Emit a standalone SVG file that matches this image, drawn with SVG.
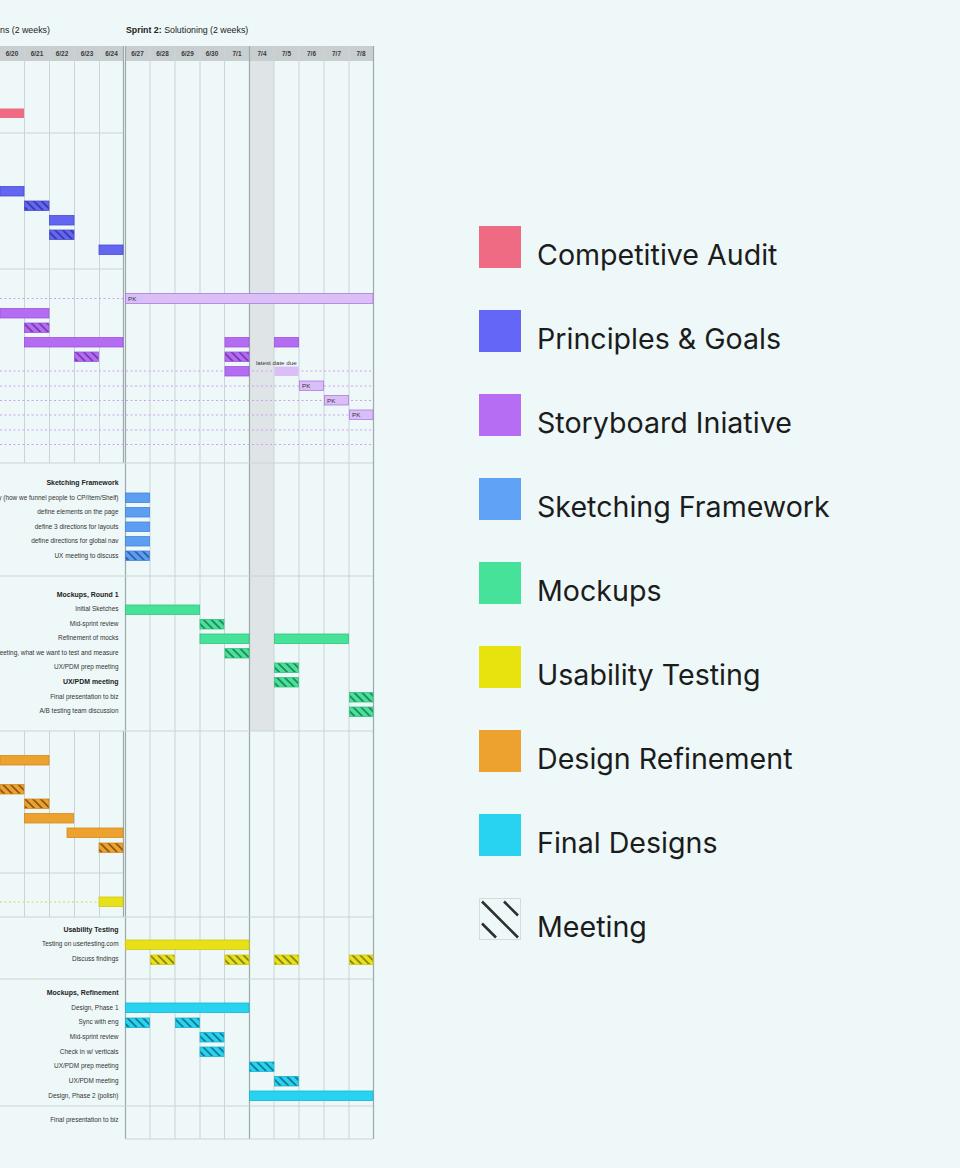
<svg xmlns="http://www.w3.org/2000/svg" width="960" height="1168" viewBox="0 0 960 1168">
<style>
.g{stroke:#CAD4D6;stroke-width:1;fill:none}
.gd{stroke:#9EA9AB;stroke-width:1.2;fill:none}
.hd{font-family:"Liberation Sans",Arial,sans-serif;font-size:6.4px;font-weight:bold;fill:#3a3a3a;text-anchor:middle}
.tt{font-family:"Liberation Sans",Arial,sans-serif;font-size:8.8px;fill:#222}
.lb{font-family:"Liberation Sans",Arial,sans-serif;font-size:6.45px;fill:#333;text-anchor:end}
.lbb{font-family:"Liberation Sans",Arial,sans-serif;font-size:6.95px;font-weight:bold;fill:#222;text-anchor:end}
.sm{font-family:"Liberation Sans",Arial,sans-serif;font-size:6.2px;fill:#333}
.lg{font-family:Inter,"Liberation Sans",Arial,sans-serif;font-size:28.6px;fill:#1c1c1c}
.dp{stroke:#C9A2F0;stroke-width:1;stroke-dasharray:2 2.5;fill:none}
.dy{stroke:#DCD64A;stroke-width:1;stroke-dasharray:2 2.5;fill:none}
.ca{fill:#EF6A83}
.pg{fill:#6366F1;stroke:#4A4DD0;stroke-width:0.8}
.sb{fill:#B46CF2;stroke:#9C55DC;stroke-width:0.8}
.sbl{fill:#D9BFF6;stroke:#AE78E6;stroke-width:0.8}
.sf{fill:#5E9EF2;stroke:#4585DA;stroke-width:0.8}
.mk{fill:#47E29A;stroke:#33C47F;stroke-width:0.8}
.ut{fill:#E8E11A;stroke:#CFC80A;stroke-width:0.8}
.dr{fill:#EDA12F;stroke:#D48B1E;stroke-width:0.8}
.fd{fill:#27D3F0;stroke:#14B6D3;stroke-width:0.8}
.pg.m{fill:url(#hPG)}
.sb.m{fill:url(#hSB)}
.sf.m{fill:url(#hSF)}
.mk.m{fill:url(#hMK)}
.ut.m{fill:url(#hUT)}
.dr.m{fill:url(#hDR)}
.fd.m{fill:url(#hFD)}
</style>
<defs>
<pattern id="hPG" width="5.5" height="5.5" patternUnits="userSpaceOnUse" patternTransform="rotate(-45)"><rect width="5.5" height="5.5" fill="#6366F1"/><line x1="2.75" y1="0" x2="2.75" y2="5.5" stroke="#2C2E8E" stroke-width="1.4"/></pattern>
<pattern id="hSB" width="5.5" height="5.5" patternUnits="userSpaceOnUse" patternTransform="rotate(-45)"><rect width="5.5" height="5.5" fill="#B46CF2"/><line x1="2.75" y1="0" x2="2.75" y2="5.5" stroke="#6A2E9E" stroke-width="1.4"/></pattern>
<pattern id="hSF" width="5.5" height="5.5" patternUnits="userSpaceOnUse" patternTransform="rotate(-45)"><rect width="5.5" height="5.5" fill="#5E9EF2"/><line x1="2.75" y1="0" x2="2.75" y2="5.5" stroke="#234E8E" stroke-width="1.4"/></pattern>
<pattern id="hMK" width="5.5" height="5.5" patternUnits="userSpaceOnUse" patternTransform="rotate(-45)"><rect width="5.5" height="5.5" fill="#47E29A"/><line x1="2.75" y1="0" x2="2.75" y2="5.5" stroke="#1E6B48" stroke-width="1.4"/></pattern>
<pattern id="hUT" width="5.5" height="5.5" patternUnits="userSpaceOnUse" patternTransform="rotate(-45)"><rect width="5.5" height="5.5" fill="#E8E11A"/><line x1="2.75" y1="0" x2="2.75" y2="5.5" stroke="#6E6A10" stroke-width="1.4"/></pattern>
<pattern id="hDR" width="5.5" height="5.5" patternUnits="userSpaceOnUse" patternTransform="rotate(-45)"><rect width="5.5" height="5.5" fill="#EDA12F"/><line x1="2.75" y1="0" x2="2.75" y2="5.5" stroke="#6E4410" stroke-width="1.4"/></pattern>
<pattern id="hFD" width="5.5" height="5.5" patternUnits="userSpaceOnUse" patternTransform="rotate(-45)"><rect width="5.5" height="5.5" fill="#27D3F0"/><line x1="2.75" y1="0" x2="2.75" y2="5.5" stroke="#145E70" stroke-width="1.4"/></pattern>
</defs>
<rect width="960" height="1168" fill="#EEF8F8"/>

<g id="titles">
<text class="tt" x="0" y="33">ns (2 weeks)</text>
<text class="tt" x="126" y="33"><tspan font-weight="bold">Sprint 2:</tspan> Solutioning (2 weeks)</text>
</g>

<g id="grid">
<rect x="0" y="46" width="123" height="15" fill="#C9CFD1"/>
<rect x="125" y="46" width="248" height="15" fill="#C9CFD1"/>
<rect x="249.5" y="61" width="24.5" height="670" fill="#DFE5E7"/>
<path class="g" d="M24.5 46V463M49.5 46V463M74.5 46V463M99.5 46V463M24.5 731V917M49.5 731V917M74.5 731V917M99.5 731V917"/>
<path class="gd" d="M123.5 46V463M123.5 731V917"/>
<path class="g" d="M150 46V1139M175 46V1139M200 46V1139M224.5 46V1139M274 46V1139M299 46V1139M324 46V1139M349 46V1139"/>
<path class="gd" d="M125.5 46V1139M249.5 46V1139M373.5 46V1139"/>
<path class="g" d="M0 133H123M0 269H123M0 463H373M0 576H373M0 731H373M0 873H123M0 917H373M0 979H373M0 1106H373M125 1139H373"/>
</g>

<g id="header">
<text class="hd" x="12" y="55.7">6/20</text>
<text class="hd" x="37" y="55.7">6/21</text>
<text class="hd" x="62" y="55.7">6/22</text>
<text class="hd" x="87" y="55.7">6/23</text>
<text class="hd" x="111.5" y="55.7">6/24</text>
<text class="hd" x="137.5" y="55.7">6/27</text>
<text class="hd" x="162.5" y="55.7">6/28</text>
<text class="hd" x="187.5" y="55.7">6/29</text>
<text class="hd" x="212" y="55.7">6/30</text>
<text class="hd" x="237" y="55.7">7/1</text>
<text class="hd" x="262" y="55.7">7/4</text>
<text class="hd" x="286.5" y="55.7">7/5</text>
<text class="hd" x="311.5" y="55.7">7/6</text>
<text class="hd" x="336.5" y="55.7">7/7</text>
<text class="hd" x="361" y="55.7">7/8</text>
</g>

<g id="competitive-audit">
<rect class="ca" x="0" y="108.5" width="24" height="9.5"/>
</g>

<g id="principles-goals">
<rect class="pg" x="0" y="186.5" width="24" height="9.5"/>
<rect class="pg m" x="24.5" y="201" width="24.5" height="9.5"/>
<rect class="pg" x="49.5" y="215.5" width="24.5" height="9.5"/>
<rect class="pg m" x="49.5" y="230" width="24.5" height="9.5"/>
<rect class="pg" x="99" y="245" width="24" height="9.5"/>
</g>

<g id="storyboard">
<path class="dp" d="M0 298.5H125M0 371H373M0 386H373M0 400.5H373M0 415H373M0 430H373M0 444.5H373"/>
<rect class="sbl" x="125.5" y="293.5" width="247.5" height="10"/>
<text class="sm" x="128" y="300.5">PK</text>
<rect class="sb" x="0" y="308.5" width="49" height="9.5"/>
<rect class="sb m" x="24.5" y="323" width="24.5" height="9.5"/>
<rect class="sb" x="24.5" y="337.5" width="98.5" height="9.5"/>
<rect class="sb" x="225" y="337.5" width="24" height="9.5"/>
<rect class="sb" x="274.5" y="337.5" width="24" height="9.5"/>
<rect class="sb m" x="74.5" y="352" width="24" height="9.5"/>
<rect class="sb m" x="225" y="352" width="24" height="9.5"/>
<text class="sm" x="256" y="365">latest date due</text>
<rect class="sb" x="225" y="366.5" width="24" height="9.5"/>
<rect fill="#D9BFF6" x="274.5" y="366.5" width="24" height="9.5"/>
<rect class="sbl" x="299.5" y="381" width="24" height="9.5"/>
<text class="sm" x="302" y="388">PK</text>
<rect class="sbl" x="324.5" y="395.5" width="24" height="9.5"/>
<text class="sm" x="327" y="402.5">PK</text>
<rect class="sbl" x="349.5" y="410" width="23.5" height="9.5"/>
<text class="sm" x="352" y="417">PK</text>
</g>

<g id="sketching-framework">
<text class="lbb" x="118.5" y="484.5">Sketching Framework</text>
<text class="lb" x="118.5" y="499.5">y (how we funnel people to CP/Item/Shelf)</text>
<rect class="sf" x="125.5" y="493" width="24" height="9.5"/>
<text class="lb" x="118.5" y="514">define elements on the page</text>
<rect class="sf" x="125.5" y="507.5" width="24" height="9.5"/>
<text class="lb" x="118.5" y="528.5">define 3 directions for layouts</text>
<rect class="sf" x="125.5" y="522" width="24" height="9.5"/>
<text class="lb" x="118.5" y="543">define directions for global nav</text>
<rect class="sf" x="125.5" y="536.5" width="24" height="9.5"/>
<text class="lb" x="118.5" y="557.5">UX meeting to discuss</text>
<rect class="sf m" x="125.5" y="551" width="24" height="9.5"/>
</g>

<g id="mockups-round-1">
<text class="lbb" x="118.5" y="596.5">Mockups, Round 1</text>
<text class="lb" x="118.5" y="611">Initial Sketches</text>
<rect class="mk" x="125.5" y="605" width="74" height="9.5"/>
<text class="lb" x="118.5" y="625.5">Mid-sprint review</text>
<rect class="mk m" x="200" y="619.5" width="24" height="9.5"/>
<text class="lb" x="118.5" y="640">Refinement of mocks</text>
<rect class="mk" x="200" y="634" width="49" height="9.5"/>
<rect class="mk" x="274.5" y="634" width="74" height="9.5"/>
<text class="lb" x="118.5" y="654.5">eeting, what we want to test and measure</text>
<rect class="mk m" x="225" y="648.5" width="24" height="9.5"/>
<text class="lb" x="118.5" y="669">UX/PDM prep meeting</text>
<rect class="mk m" x="274.5" y="663" width="24" height="9.5"/>
<text class="lbb" x="118.5" y="684">UX/PDM meeting</text>
<rect class="mk m" x="274.5" y="677.5" width="24" height="9.5"/>
<text class="lb" x="118.5" y="698.5">Final presentation to biz</text>
<rect class="mk m" x="349.5" y="692.5" width="23.5" height="9.5"/>
<text class="lb" x="118.5" y="713">A/B testing team discussion</text>
<rect class="mk m" x="349.5" y="707" width="23.5" height="9.5"/>
</g>

<g id="design-refinement">
<rect class="dr" x="0" y="755.5" width="49" height="9.5"/>
<rect class="dr m" x="0" y="784.5" width="24" height="9.5"/>
<rect class="dr m" x="24.5" y="799" width="24.5" height="9.5"/>
<rect class="dr" x="24.5" y="813.5" width="49" height="9.5"/>
<rect class="dr" x="67" y="828" width="56" height="9.5"/>
<rect class="dr m" x="99" y="843" width="24" height="9.5"/>
<path class="dy" d="M0 902H99"/>
<rect class="ut" x="99" y="897" width="24" height="9.5"/>
</g>

<g id="usability-testing">
<text class="lbb" x="118.5" y="931.5">Usability Testing</text>
<text class="lb" x="118.5" y="946">Testing on usertesting.com</text>
<rect class="ut" x="125.5" y="940" width="123.5" height="9.5"/>
<text class="lb" x="118.5" y="960.5">Discuss findings</text>
<rect class="ut m" x="150.5" y="955" width="24" height="9.5"/>
<rect class="ut m" x="225" y="955" width="24" height="9.5"/>
<rect class="ut m" x="274.5" y="955" width="24" height="9.5"/>
<rect class="ut m" x="349.5" y="955" width="23.5" height="9.5"/>
</g>

<g id="mockups-refinement">
<text class="lbb" x="118.5" y="995">Mockups, Refinement</text>
<text class="lb" x="118.5" y="1009.5">Design, Phase 1</text>
<rect class="fd" x="125.5" y="1003" width="123.5" height="9.5"/>
<text class="lb" x="118.5" y="1024">Sync with eng</text>
<rect class="fd m" x="125.5" y="1018" width="24" height="9.5"/>
<rect class="fd m" x="175.5" y="1018" width="24" height="9.5"/>
<text class="lb" x="118.5" y="1038.5">Mid-sprint review</text>
<rect class="fd m" x="200" y="1032.5" width="24" height="9.5"/>
<text class="lb" x="118.5" y="1053.5">Check in w/ verticals</text>
<rect class="fd m" x="200" y="1047" width="24" height="9.5"/>
<text class="lb" x="118.5" y="1068">UX/PDM prep meeting</text>
<rect class="fd m" x="249.5" y="1062" width="24.5" height="9.5"/>
<text class="lb" x="118.5" y="1082.5">UX/PDM meeting</text>
<rect class="fd m" x="274.5" y="1076.5" width="24" height="9.5"/>
<text class="lb" x="118.5" y="1097.5">Design, Phase 2 (polish)</text>
<rect class="fd" x="249.5" y="1091" width="123.5" height="9.5"/>
</g>

<g id="final-presentation">
<text class="lb" x="118.5" y="1122">Final presentation to biz</text>
</g>

<g id="legend">
<rect x="479" y="226" width="42" height="42" fill="#EF6A83"/>
<text class="lg" x="537" y="265">Competitive Audit</text>
<rect x="479" y="310" width="42" height="42" fill="#6366F6"/>
<text class="lg" x="537" y="349">Principles &amp; Goals</text>
<rect x="479" y="394" width="42" height="42" fill="#B66DF3"/>
<text class="lg" x="537" y="433">Storyboard Iniative</text>
<rect x="479" y="478" width="42" height="42" fill="#60A2F6"/>
<text class="lg" x="537" y="517">Sketching Framework</text>
<rect x="479" y="562" width="42" height="42" fill="#47E29A"/>
<text class="lg" x="537" y="601">Mockups</text>
<rect x="479" y="646" width="42" height="42" fill="#E8E20F"/>
<text class="lg" x="537" y="685">Usability Testing</text>
<rect x="479" y="730" width="42" height="42" fill="#EDA12F"/>
<text class="lg" x="537" y="769">Design Refinement</text>
<rect x="479" y="814" width="42" height="42" fill="#27D3F0"/>
<text class="lg" x="537" y="853">Final Designs</text>
<rect x="479.5" y="898.5" width="41" height="41" fill="none" stroke="#D3DBDD" stroke-width="1"/>
<path d="M482 901.5L518 937.5M504 901.5L518 915.5M482 923.5L496 937.5" stroke="#2f2f2f" stroke-width="2.6" fill="none"/>
<text class="lg" x="537" y="937">Meeting</text>
</g>
</svg>
